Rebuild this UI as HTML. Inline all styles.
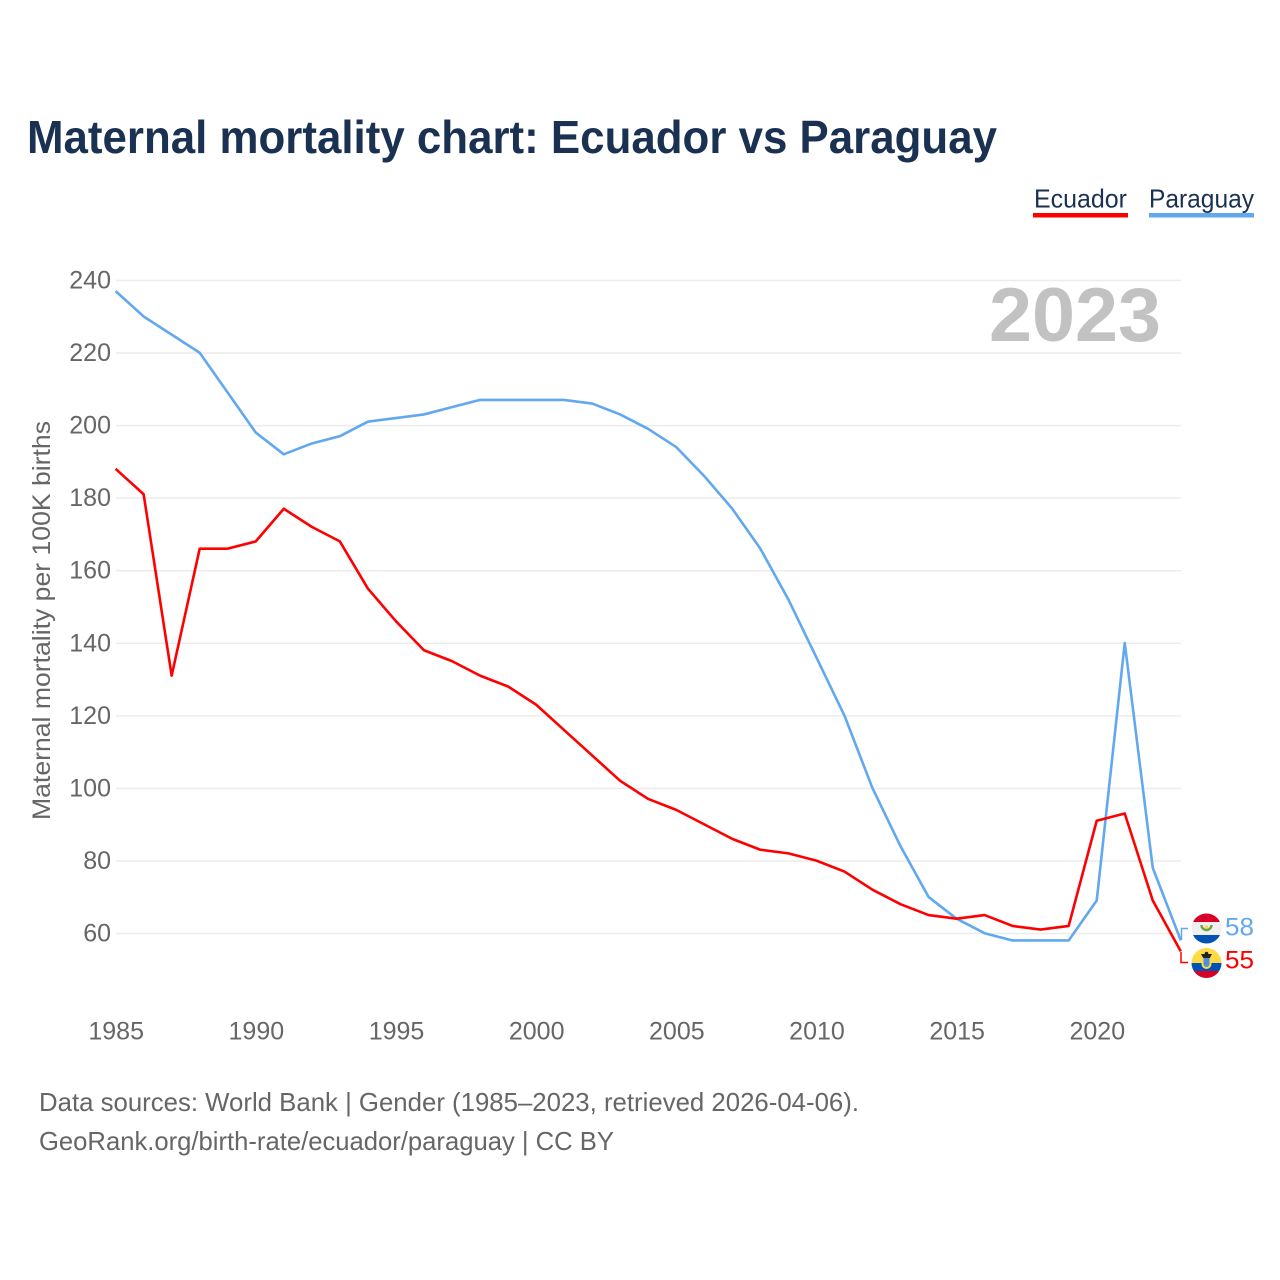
<!DOCTYPE html>
<html lang="en">
<head>
<meta charset="utf-8">
<title>Maternal mortality chart: Ecuador vs Paraguay</title>
<style>
html,body{margin:0;padding:0;background:#fff;}
svg{display:block;}
text{font-family:"Liberation Sans",sans-serif;}
</style>
</head>
<body>
<svg id="chart" xmlns="http://www.w3.org/2000/svg" width="1280" height="1280" viewBox="0 0 1280 1280">
  <rect width="1280" height="1280" fill="#fff"/>
  <text x="27" y="153" font-size="46" font-weight="700" fill="#1a3152" textLength="970" lengthAdjust="spacingAndGlyphs">Maternal mortality chart: Ecuador vs Paraguay</text>

  <g>
    <text x="1034" y="207.5" font-size="26" fill="#1a3152" textLength="93" lengthAdjust="spacingAndGlyphs">Ecuador</text>
    <rect x="1033" y="213" width="95" height="4.5" fill="#ff0000"/>
  </g>
  <g>
    <text x="1149" y="207.5" font-size="26" fill="#1a3152" textLength="105" lengthAdjust="spacingAndGlyphs">Paraguay</text>
    <rect x="1149" y="213" width="105" height="4.5" fill="#62a8ef"/>
  </g>

  <g id="grid"></g>
  <g id="yticks"></g>
  <g id="xticks"></g>

  <text x="989" y="341" font-size="76" font-weight="700" fill="#c2c2c2" textLength="172" lengthAdjust="spacingAndGlyphs">2023</text>

  <text transform="translate(50,820) rotate(-90)" font-size="25" fill="#666" textLength="399" lengthAdjust="spacingAndGlyphs">Maternal mortality per 100K births</text>

  <g id="series"></g>

  <defs>
    <clipPath id="clip-py"><circle cx="1206.5" cy="928.5" r="15"/></clipPath>
    <clipPath id="clip-ec"><circle cx="1206.5" cy="963" r="15"/></clipPath>
  </defs>

  <g clip-path="url(#clip-py)">
    <rect x="1191" y="913" width="31" height="9" fill="#d80027"/>
    <rect x="1191" y="922" width="31" height="13" fill="#f0f0f0"/>
    <rect x="1191" y="935" width="31" height="10" fill="#0052b4"/>
    <path d="M1201.5 925 A5 5 0 1 0 1211.5 925" transform="rotate(0)" fill="none" stroke="#6da544" stroke-width="2.4"/>
    <circle cx="1206.5" cy="927" r="1.8" fill="#ffda44"/>
  </g>
  <g clip-path="url(#clip-ec)">
    <rect x="1191" y="948" width="31" height="15" fill="#ffda44"/>
    <rect x="1191" y="963" width="31" height="8" fill="#0052b4"/>
    <rect x="1191" y="971" width="31" height="8" fill="#d80027"/>
    <path d="M1201 954 L1212 954 L1209.5 958.5 H1203.5 Z" fill="#222"/>
    <circle cx="1206.5" cy="953.5" r="1.8" fill="#222"/>
    <path d="M1201.5 958 H1211.5 V964 A5 5 0 0 1 1201.5 964 Z" fill="#ffda44"/>
    <path d="M1203.5 958 H1209.5 V964 A3 3 0 0 1 1203.5 964 Z" fill="#4f8fe0"/>
  </g>

  <path d="M1188 928.5 H1181.5 V940" fill="none" stroke="#62a8ef" stroke-width="1.5"/>
  <path d="M1181 952 V962.5 H1188" fill="none" stroke="#ff0000" stroke-width="1.5"/>

  <text id="end-py" x="1225" y="935.5" font-size="25" fill="#62a8ef" textLength="29" lengthAdjust="spacingAndGlyphs"></text>
  <text id="end-ec" x="1225" y="968.5" font-size="25" fill="#ff0000" textLength="29" lengthAdjust="spacingAndGlyphs"></text>

  <text x="39" y="1111" font-size="26" fill="#666" textLength="820" lengthAdjust="spacingAndGlyphs">Data sources: World Bank | Gender (1985–2023, retrieved 2026-04-06).</text>
  <text x="39" y="1150" font-size="26" fill="#666" textLength="575" lengthAdjust="spacingAndGlyphs">GeoRank.org/birth-rate/ecuador/paraguay | CC BY</text>
</svg>
<script>
const years = [1985,1986,1987,1988,1989,1990,1991,1992,1993,1994,1995,1996,1997,1998,1999,2000,2001,2002,2003,2004,2005,2006,2007,2008,2009,2010,2011,2012,2013,2014,2015,2016,2017,2018,2019,2020,2021,2022,2023];
const ecuadorValues = [188,181,131,166,166,168,177,172,168,155,146,138,135,131,128,123,116,109,102,97,94,90,86,83,82,80,77,72,68,65,64,65,62,61,62,91,93,69,55];
const paraguayValues = [237,230,225,220,209,198,192,195,197,201,202,203,205,207,207,207,207,206,203,199,194,186,177,166,152,136,120,100,84,70,64,60,58,58,58,69,140,78,58];
const yTickLabels = [60,80,100,120,140,160,180,200,220,240];
const xTickLabels = [1985,1990,1995,2000,2005,2010,2015,2020];

const NS = 'http://www.w3.org/2000/svg';
const xScale = function (year) { return 115.6 + (year - 1985) * (1180.8 - 115.6) / 38; };
const yScale = function (value) { return 933.2 - (value - 60) * (933.2 - 280.2) / 180; };

const grid = document.getElementById('grid');
const yticks = document.getElementById('yticks');
const xticks = document.getElementById('xticks');
const series = document.getElementById('series');

yTickLabels.forEach(function (tick) {
  const line = document.createElementNS(NS, 'line');
  
  
  line.setAttribute('x1', 116);
  line.setAttribute('x2', 1181);
  line.setAttribute('y1', yScale(tick) + 0.3);
  line.setAttribute('y2', yScale(tick) + 0.3);
  line.setAttribute('stroke', '#ececec');
  line.setAttribute('stroke-width', '1.5');
  grid.appendChild(line);

  const label = document.createElementNS(NS, 'text');
  
  
  label.setAttribute('x', 111);
  label.setAttribute('y', yScale(tick) + 8.3);
  label.setAttribute('text-anchor', 'end');
  label.setAttribute('font-size', '25');
  label.setAttribute('fill', '#666');
  label.textContent = tick;
  yticks.appendChild(label);
});

xTickLabels.forEach(function (tick) {
  const label = document.createElementNS(NS, 'text');
  
  
  label.setAttribute('x', xScale(tick) + 0.6);
  label.setAttribute('y', 1039.5);
  label.setAttribute('text-anchor', 'middle');
  label.setAttribute('font-size', '25');
  label.setAttribute('fill', '#666');
  label.textContent = tick;
  xticks.appendChild(label);
});

function drawSeries(values, color, name) {
  const path = document.createElementNS(NS, 'path');
  
  
  path.setAttribute('d', values.map(function (v, i) {
    return (i ? 'L' : 'M') + xScale(years[i]).toFixed(2) + ' ' + yScale(v).toFixed(2);
  }).join(' '));
  path.setAttribute('fill', 'none');
  path.setAttribute('stroke', color);
  path.setAttribute('stroke-width', '2.6');
  path.setAttribute('stroke-linejoin', 'round');
  series.appendChild(path);
}
drawSeries(paraguayValues, '#62a8ef', 'paraguay-line');
drawSeries(ecuadorValues, '#ff0000', 'ecuador-line');

document.getElementById('end-py').textContent = paraguayValues[paraguayValues.length - 1];
document.getElementById('end-ec').textContent = ecuadorValues[ecuadorValues.length - 1];
</script>
</body>
</html>
